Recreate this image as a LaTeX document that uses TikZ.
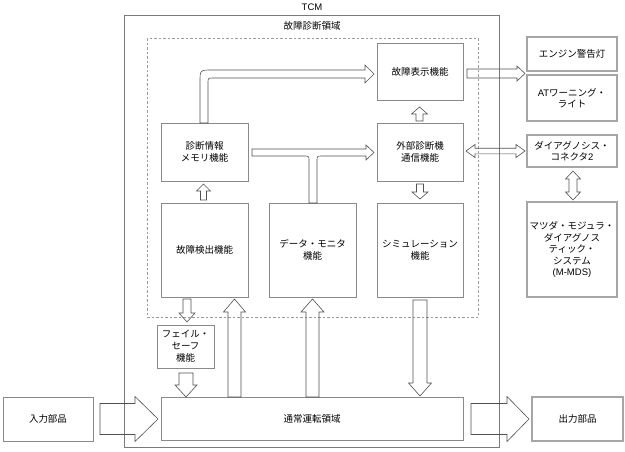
\documentclass[tikz,border=0pt]{standalone}
\usepackage{fontspec}
\setmainfont{Noto Sans CJK JP}
\newfontfamily\lat{Liberation Sans}
\definecolor{boxc}{HTML}{8A8A8A}
\definecolor{rboxc}{HTML}{A6A6A6}
\definecolor{arrc}{HTML}{505050}
\definecolor{dashc}{HTML}{9A9A9A}
\definecolor{framec}{HTML}{7A7A7A}
\tikzset{
  fbox/.style={draw=boxc, line width=0.9pt, align=center, inner sep=1pt, font=\fontsize{9.5}{12}\selectfont},
  rbox/.style={draw=rboxc, line width=1.3pt, align=center, inner sep=1pt, font=\fontsize{9.5}{11.5}\selectfont},
  barrow/.style={draw=arrc, line width=0.6pt, line join=miter},
  lbl/.style={font=\fontsize{9.5}{12}\selectfont, inner sep=0pt}
}
\newcommand\myup[6]{\draw[barrow] ({#1-#4},#2) -- ({#1-#4},{#3+#6}) -- ({#1-#5},{#3+#6}) -- (#1,#3) -- ({#1+#5},{#3+#6}) -- ({#1+#4},{#3+#6}) -- ({#1+#4},#2) -- cycle;}
\newcommand\mydown[6]{\draw[barrow] ({#1-#4},#2) -- ({#1-#4},{#3-#6}) -- ({#1-#5},{#3-#6}) -- (#1,#3) -- ({#1+#5},{#3-#6}) -- ({#1+#4},{#3-#6}) -- ({#1+#4},#2) -- cycle;}
\newcommand\myright[6]{\draw[barrow] (#2,{#1-#4}) -- ({#3-#6},{#1-#4}) -- ({#3-#6},{#1-#5}) -- (#3,#1) -- ({#3-#6},{#1+#5}) -- ({#3-#6},{#1+#4}) -- (#2,{#1+#4}) -- cycle;}
\newcommand\mydh[6]{\draw[barrow] (#2,#1) -- ({#2+#6},{#1-#5}) -- ({#2+#6},{#1-#4}) -- ({#3-#6},{#1-#4}) -- ({#3-#6},{#1-#5}) -- (#3,#1) -- ({#3-#6},{#1+#5}) -- ({#3-#6},{#1+#4}) -- ({#2+#6},{#1+#4}) -- ({#2+#6},{#1+#5}) -- cycle;}
\newcommand\mydv[6]{\draw[barrow] (#1,#2) -- ({#1-#5},{#2+#6}) -- ({#1-#4},{#2+#6}) -- ({#1-#4},{#3-#6}) -- ({#1-#5},{#3-#6}) -- (#1,#3) -- ({#1+#5},{#3-#6}) -- ({#1+#4},{#3-#6}) -- ({#1+#4},{#2+#6}) -- ({#1+#5},{#2+#6}) -- cycle;}
\begin{document}
\begin{tikzpicture}[x=1pt,y=-1pt]
\useasboundingbox (0,0) rectangle (625,451);
% frames
\draw[framec, line width=0.9pt] (124.5,15) rectangle (499.5,447);
\node[lbl] (tcm) at (312,7) {\lat TCM};
\draw[dashc, line width=0.9pt, dash pattern=on 2.5pt off 2pt] (147,38) rectangle (478,317);
\node[lbl] (ryoiki) at (312,26) {故障診断領域};
% function boxes
\node[fbox, minimum width=86pt, minimum height=57pt] (hyoji) at (420,71.5) {故障表示機能};
\node[fbox, minimum width=87pt, minimum height=58pt] (memory) at (204.5,152) {診断情報\\メモリ機能};
\node[fbox, minimum width=86pt, minimum height=58pt] (gaibu) at (420,152) {外部診断機\\通信機能};
\node[fbox, minimum width=87pt, minimum height=94pt] (kenshutsu) at (204.5,250) {故障検出機能};
\node[fbox, minimum width=87pt, minimum height=94pt] (data) at (312.5,250) {データ・モニタ\\機能};
\node[fbox, minimum width=86pt, minimum height=94pt] (sim) at (420,250) {シミュレーション\\機能};
\node[fbox, minimum width=57pt, minimum height=43pt] (fail) at (185.5,346.5) {フェイル・\\セーフ\\機能};
\node[fbox, minimum width=302pt, minimum height=43pt] (tsujo) at (312,418.5) {通常運転領域};
\node[fbox, minimum width=90pt, minimum height=44pt] (nyu) at (48,419) {入力部品};
\node[rbox, minimum width=91pt, minimum height=44pt] (shutsu) at (577.5,419) {出力部品};
% right column
\node[rbox, minimum width=90pt, minimum height=34pt] (engine) at (572,54) {エンジン警告灯};
\node[rbox, minimum width=90pt, minimum height=46pt] (atw) at (572,98) {{\lat AT}ワーニング・\\ライト};
\node[rbox, minimum width=90pt, minimum height=32pt] (diag) at (572,151) {ダイアグノシス・\\コネクタ{\lat 2}};
\node[rbox, minimum width=90pt, minimum height=95pt] (mmds) at (572,249.5) {マツダ・モジュラ・\\ダイアグノス\\ティック・\\システム\\{\lat (M-MDS)}};
% bent arrow memory -> hyoji
\draw[barrow] (200,123) -- (200,82) .. controls (200,70) .. (212,70) -- (365,70) -- (365,65) -- (374,74) -- (365,83) -- (365,78) -- (213,78) .. controls (208,78) .. (208,83) -- (208,123) -- cycle;
% T arrow memory/data -> gaibu
\draw[barrow] (252,149) -- (366,149) -- (366,145) -- (374,152.5) -- (366,160) -- (366,156) -- (322,156) .. controls (317,156) .. (317,161) -- (317,203) -- (309,203) -- (309,161) .. controls (309,156) .. (304,156) -- (252,156) -- cycle;
% small arrows
\myup{419.5}{121}{107}{3.5}{8}{7}
\mydown{420}{184}{199}{3.5}{8}{7}
\myup{203.5}{200}{184}{3}{7}{7}
\mydown{187}{299}{322}{4}{8}{9}
% big vertical arrows
\mydown{186}{373}{397}{7}{11}{12}
\myup{234.5}{397}{299}{6.5}{11}{13}
\myup{312.5}{397}{299}{6.5}{11.5}{13}
\mydown{420}{300}{396}{7}{11.5}{13}
% right side arrows
\myright{73.5}{467}{525}{4.5}{7.5}{8}
\mydh{151}{466}{525}{2.8}{6.5}{9}
\mydv{573}{171}{200}{4}{7.5}{8}
% input / output
\myright{419}{100}{158}{15.5}{22.5}{23}
\myright{419}{471}{529}{15.5}{22.5}{22}
\end{tikzpicture}
\end{document}
